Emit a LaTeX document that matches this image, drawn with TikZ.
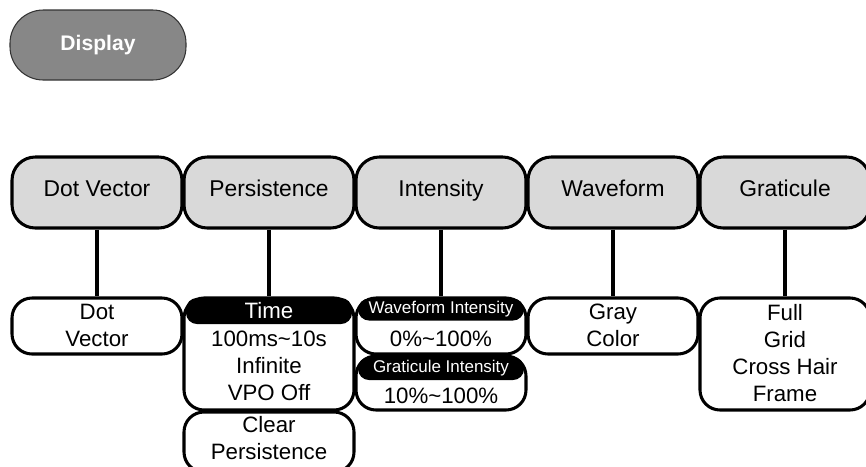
\documentclass[tikz,border=0pt]{standalone}
\usepackage{fontspec}
\setmainfont{Liberation Sans}
\usetikzlibrary{positioning}

\begin{document}
\begin{tikzpicture}[x=0.03cm, y=-0.03cm,
    menubtn/.style={draw=black!80, line width=0.9pt, fill=black!47, rounded corners=1.0cm,
        minimum width=5.28cm, minimum height=2.1cm, text=white,
        font=\fontsize{18pt}{22pt}\selectfont\bfseries},
    topbox/.style={draw, line width=2.6pt, fill=black!15, rounded corners=0.7cm,
        minimum width=5.1cm, minimum height=2.13cm, inner sep=0pt,
        text height=1.0em, text depth=0.28em,
        font=\fontsize{19.5pt}{23pt}\selectfont},
    subbox/.style={draw, line width=2.6pt, fill=white, rounded corners=0.6cm,
        minimum width=5.1cm, inner sep=0pt},
    subtext/.style={align=center, inner sep=0pt, font=\fontsize{19pt}{23pt}\selectfont},
    headbar/.style={fill=black, rounded corners=0.33cm, minimum width=4.98cm,
        inner sep=0pt, text=white, font=\fontsize{19pt}{23pt}\selectfont},
    link/.style={line width=3.4pt}]
    \useasboundingbox (0,0) rectangle (866,466);

    % menu button
    \node[menubtn] (display) at (98,45) {Display};

    % top row
    \node[topbox] (dotvec) at (97,192.5) {Dot Vector};
    \node[topbox] (persist) at (269,192.5) {Persistence};
    \node[topbox] (intens) at (441,192.5) {Intensity};
    \node[topbox] (wave) at (613,192.5) {Waveform};
    \node[topbox] (grat) at (785,192.5) {Graticule};

    % option boxes
    \node[subbox, minimum height=1.68cm] (dotvecsub) at (97,326) {};
    \node[subtext] (dotvecopts) at (97,325) {Dot\\Vector};

    \node[subbox, minimum height=3.36cm] (persistsub) at (269,354) {};
    \node[headbar, minimum height=0.78cm] (timehead) at (269,311) {Time};
    \node[subtext] (persistopts) at (269,366) {100ms\textasciitilde10s\\Infinite\\VPO Off};
    \node[subbox, minimum height=1.8cm] (clearsub) at (269,442) {};
    \node[subtext] (clearopts) at (269,438.5) {Clear\\Persistence};

    \node[subbox, minimum height=1.68cm] (wavint) at (441,326) {};
    \node[headbar, minimum height=0.66cm, font=\fontsize{14.5pt}{17pt}\selectfont] (wavinthead) at (441,309.5) {Waveform Intensity};
    \node[subtext] (wavintopts) at (441,339) {0\%\textasciitilde100\%};
    \node[subbox, minimum height=1.62cm] (gratint) at (441,383) {};
    \node[headbar, minimum height=0.69cm, font=\fontsize{14.5pt}{17pt}\selectfont] (gratinthead) at (441,368.5) {Graticule Intensity};
    \node[subtext] (gratintopts) at (441,396) {10\%\textasciitilde100\%};

    \node[subbox, minimum height=1.68cm] (wavesub) at (613,326) {};
    \node[subtext] (waveopts) at (613,325) {Gray\\Color};

    \node[subbox, minimum height=3.36cm] (gratsub) at (785,354) {};
    \node[subtext] (gratopts) at (785,353) {Full\\Grid\\Cross Hair\\Frame};

    % links
    \draw[link] (dotvec) -- (dotvecsub);
    \draw[link] (persist) -- (persistsub);
    \draw[link] (intens) -- (wavint);
    \draw[link] (wave) -- (wavesub);
    \draw[link] (grat) -- (gratsub);
\end{tikzpicture}
\end{document}
